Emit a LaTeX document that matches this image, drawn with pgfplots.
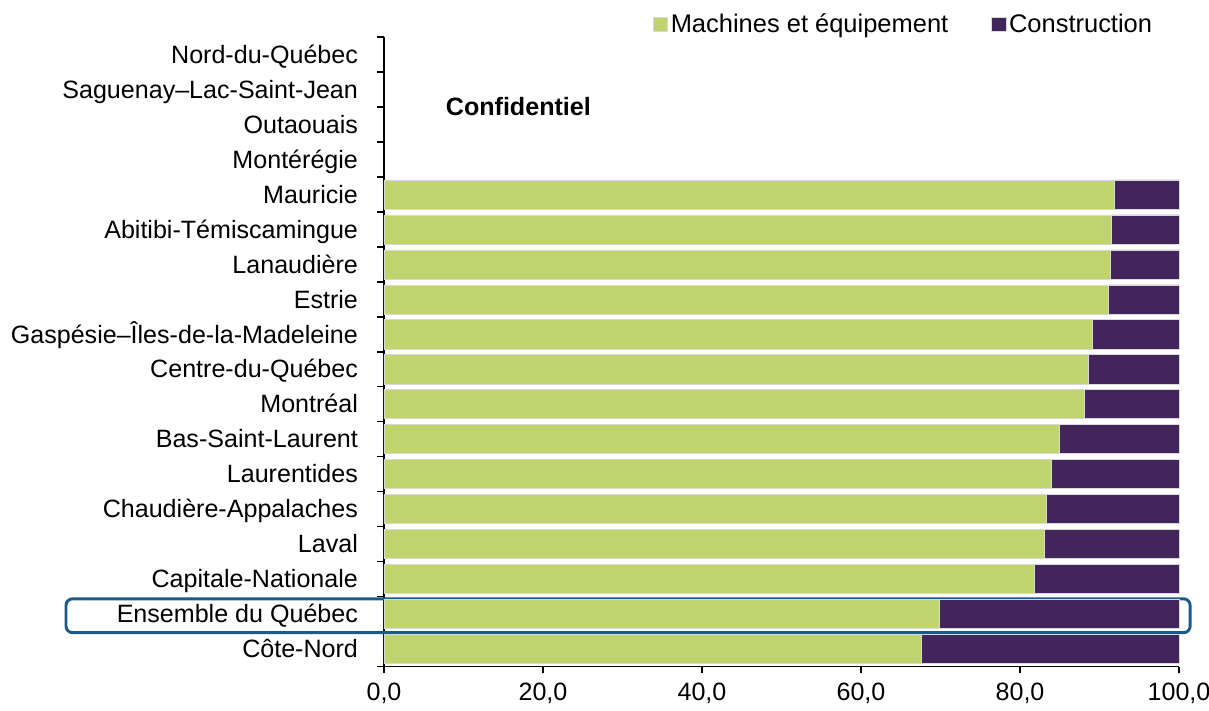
\documentclass[border=0pt]{standalone}
\usepackage{fontspec}
\setmainfont{Liberation Sans}
\usepackage{pgfplots}
\pgfplotsset{compat=1.18}
\definecolor{vertmach}{HTML}{C0D46E}
\definecolor{mauvecons}{HTML}{42255A}
\definecolor{cadre}{HTML}{1A5A8A}
\definecolor{bord}{HTML}{D9D9D9}

\begin{document}
\begin{tikzpicture}[font=\fontsize{18.8}{22}\selectfont]
\begin{axis}[
    xbar stacked,
    scale only axis,
    width=596pt, height=472pt,
    xmin=0, xmax=100,
    ymin=-0.5, ymax=17.5,
    bar width=0.83,
    clip=false,
    axis x line*=bottom,
    axis y line*=left,
    axis line style={line width=1pt, black},
    tick style={line width=1pt, black},
    tick align=outside,
    major tick length=5pt,
    xtick={0,20,...,100},
    /pgf/number format/assume math mode=true,
    xticklabel style={yshift=-4pt, /pgf/number format/.cd, fixed, fixed zerofill, precision=1, use comma},
    ytick={-0.5,0.5,...,17.5},
    yticklabels={},
    extra y ticks={0,1,...,17},
    extra y tick labels={Côte-Nord, Ensemble du Québec, Capitale-Nationale, Laval,
        Chaudière-Appalaches, Laurentides, Bas-Saint-Laurent, Montréal,
        Centre-du-Québec, Gaspésie–Îles-de-la-Madeleine, Estrie, Lanaudière,
        Abitibi-Témiscamingue, Mauricie, Montérégie, Outaouais,
        Saguenay–Lac-Saint-Jean, Nord-du-Québec},
    extra y tick style={tick style={draw=none}},
    yticklabel style={xshift=-11pt, text height=16.5pt, text depth=3.5pt},
    legend columns=2,
    legend style={draw=none, fill=none, inner sep=0pt,
        font=\fontsize{19.1}{22}\selectfont,
        at={(1,1)}, anchor=east, xshift=-18pt, yshift=9.5pt,
        /tikz/every even column/.append style={column sep=30pt}},
    legend image code/.code={\fill[#1] (0pt,-5.5pt) rectangle (11pt,5.5pt);},
]
% Machines et equipement
\addplot[fill=vertmach, draw=bord, line width=0.5pt] coordinates {
    (67.6,0) (69.8,1) (81.8,2) (83.0,3) (83.3,4) (84.0,5) (84.9,6) (88.1,7)
    (88.6,8) (89.1,9) (91.1,10) (91.3,11) (91.5,12) (91.8,13)};
% Construction
\addplot[fill=mauvecons, draw=bord, line width=0.5pt] coordinates {
    (32.4,0) (30.2,1) (18.2,2) (17.0,3) (16.7,4) (16.0,5) (15.1,6) (11.9,7)
    (11.4,8) (10.9,9) (8.9,10) (8.7,11) (8.5,12) (8.2,13)};
\legend{Machines et équipement, Construction}
\node[font=\bfseries\fontsize{18.8}{22}\selectfont] at (axis cs:16.9,15.5) {Confidentiel};
\draw[cadre, line width=2.2pt, rounded corners=5pt]
    (axis cs:-40,0.47) rectangle (axis cs:101.4,1.44);
\coordinate (bbsw) at (rel axis cs:-0.483,-0.07);
\coordinate (bbne) at (rel axis cs:1.0377,1.0588);
\end{axis}
\pgfresetboundingbox
\path[use as bounding box] (bbsw) rectangle (bbne);
\end{tikzpicture}
\end{document}
